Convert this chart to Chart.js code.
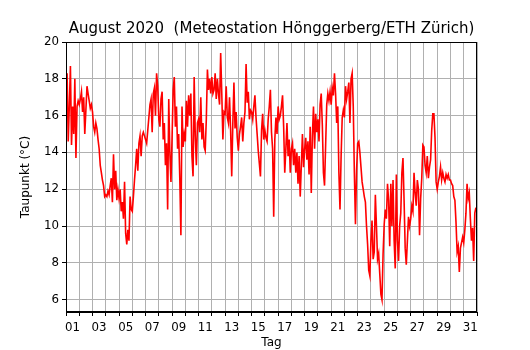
<!DOCTYPE html>
<html>
<head>
<meta charset="utf-8">
<script src="https://cdn.jsdelivr.net/npm/chart.js@4"></script>
<style>
  html, body { margin:0; padding:0; background:#fff; }
</style>
</head>
<body>
<canvas id="c" width="530" height="350"></canvas>
<script>
const TITLE = "August 2020  (Meteostation Hönggerberg/ETH Zürich)";
const X_TITLE = "Tag";
const Y_TITLE = "Taupunkt (°C)";

// one value every 2 hours, 12 per day
const STEP_HOURS = 2;

// day boundaries (0 = 1 Aug 00:00, 31 = 1 Sep 00:00) and their labels
const dayTicks  = [0,1,2,3,4,5,6,7,8,9,10,11,12,13,14,15,16,17,18,19,20,21,22,23,24,25,26,27,28,29,30,31];
const dayLabels = ["01","","03","","05","","07","","09","","11","","13","","15","","17","","19","","21","","23","","25","","27","","29","","31",""];
const yTicks = [6,8,10,12,14,16,18,20];
const Y_MIN = 5.33, Y_MAX = 20;

// Taupunkt in °C
const taupunkt = [
  17.4, 18.3, 14.6, 16.5, 18.7, 14.4, 16.5, 15.0, 18.0, 13.7, 16.5, 16.8, // 01
  16.6, 16.9, 17.3, 16.2, 17.0, 15.0, 16.3, 17.6, 17.2, 16.8, 16.4, 16.6, // 02
  16.2, 15.4, 15.1, 15.6, 15.3, 14.7, 14.2, 13.3, 12.9, 12.5, 12.2, 11.6, // 03
  11.7, 11.6, 11.9, 11.7, 12.2, 12.6, 11.3, 13.9, 12.0, 13.0, 11.4, 12.0, // 04
  11.5, 12.0, 10.8, 11.3, 10.4, 12.4,  9.6,  9.0,  9.8,  9.2, 11.6, 10.9, // 05
  10.8, 11.6, 12.5, 13.3, 14.2, 13.0, 14.5, 14.9, 13.8, 14.9, 15.1, 14.9, // 06
  14.7, 14.5, 15.2, 15.9, 16.6, 16.9, 15.1, 17.2, 17.5, 16.0, 18.3, 17.6, // 07
  15.8, 15.4, 16.9, 17.3, 14.7, 15.6, 13.3, 14.5, 10.9, 16.9, 14.0, 12.4, // 08
  14.8, 17.4, 18.1, 15.4, 16.5, 14.2, 15.0, 12.6,  9.5, 16.5, 14.3, 15.0, // 09
  14.6, 16.8, 15.4, 17.1, 16.0, 17.2, 13.8, 12.7, 18.1, 14.9, 13.3, 15.6, // 10
  15.8, 15.1, 17.0, 14.7, 15.6, 14.3, 14.1, 15.8, 18.5, 17.4, 18.0, 17.2, // 11
  18.1, 17.2, 17.4, 18.3, 16.9, 18.0, 17.2, 16.6, 19.4, 17.2, 14.7, 16.2, // 12
  16.1, 17.6, 15.9, 15.6, 17.0, 15.2, 12.7, 15.6, 17.8, 15.3, 16.2, 14.8, // 13
  14.1, 15.0, 15.4, 15.9, 14.6, 15.6, 16.2, 18.8, 16.7, 17.3, 15.8, 16.3, // 14
  16.2, 15.8, 16.5, 17.1, 15.9, 15.0, 14.1, 13.4, 12.7, 15.2, 16.1, 14.7, // 15
  15.2, 14.8, 14.6, 15.8, 16.5, 17.4, 15.1, 14.2, 10.5, 14.7, 15.9, 15.0, // 16
  16.5, 15.8, 16.0, 16.5, 17.1, 15.4, 12.9, 14.2, 15.6, 13.8, 14.7, 12.9, // 17
  14.2, 14.5, 13.3, 14.2, 12.9, 14.0, 12.3, 13.8, 11.6, 13.3, 15.0, 13.2, // 18
  14.2, 14.8, 13.6, 14.6, 12.8, 15.4, 11.8, 14.9, 16.5, 14.2, 16.1, 15.1, // 19
  15.8, 14.6, 16.6, 17.2, 15.5, 12.9, 12.2, 14.4, 16.6, 17.2, 16.8, 17.3, // 20
  16.6, 17.5, 17.1, 18.3, 17.2, 15.6, 16.5, 12.9, 10.9, 13.8, 15.9, 16.3, // 21
  15.9, 17.6, 16.9, 17.3, 17.8, 15.6, 18.0, 18.3, 16.5, 12.9, 10.1, 13.0, // 22
  14.5, 14.6, 14.0, 13.2, 12.4, 12.0, 11.6, 11.3, 10.0,  9.0,  7.6,  7.3, // 23
   9.2, 10.3,  8.2,  8.6, 11.7, 10.0,  8.2,  8.5,  7.4,  6.3,  6.0,  8.5, // 24
  10.1, 10.9, 10.4, 12.3, 11.4,  8.9, 12.3, 10.0, 12.5,  9.2,  7.7, 12.8, // 25
   9.2,  8.1, 10.0, 10.7, 12.9, 13.7, 11.4,  8.8,  7.9,  9.2, 10.5, 10.0, // 26
  10.4, 11.1, 10.8, 12.9, 11.8, 11.1, 12.5, 12.0,  9.5, 11.5, 12.6, 14.4, // 27
  14.3, 13.3, 12.9, 13.8, 12.6, 13.2, 13.6, 15.2, 16.1, 16.1, 14.8, 12.4, // 28
  12.0, 12.4, 12.7, 13.2, 12.5, 12.9, 12.6, 12.4, 12.8, 12.6, 12.8, 12.5, // 29
  12.5, 12.3, 12.2, 11.6, 11.4, 10.2,  8.6,  8.9,  7.5,  8.8,  9.1,  9.4, // 30
   9.1,  9.8, 10.7, 12.3, 11.5, 11.8, 10.4,  9.2,  9.9,  8.1, 10.7, 11.0  // 31
];

const FONT = "'DejaVu Sans', sans-serif";

// black box round the plot, like the matplotlib spines
const frame = {
  id: "frame",
  afterDatasetsDraw(chart){
    const { ctx, chartArea: a } = chart;
    ctx.save();
    ctx.strokeStyle = "#000";
    ctx.lineWidth = 1;
    ctx.strokeRect(Math.round(a.left) + 0.5, Math.round(a.top) + 0.5,
                   Math.round(a.right - a.left) - 1, Math.round(a.bottom - a.top) - 1);
    ctx.restore();
  }
};

const points = taupunkt.map((v, i) => ({ x: i * STEP_HOURS / 24, y: v }));

new Chart(document.getElementById("c"), {
  type: "line",
  data: { datasets: [{ data: points, borderColor: "#ff0000", borderWidth: 1.6, pointRadius: 0, tension: 0 }] },
  options: {
    responsive: false,
    animation: false,
    devicePixelRatio: 1,
    layout: { padding: { left: 0, right: 53, top: 0, bottom: 0 } },
    plugins: {
      legend: { display: false },
      tooltip: { enabled: false },
      title: {
        display: true, text: TITLE, color: "#000", fullSize: false,
        font: { family: FONT, size: 15, weight: "normal" },
        padding: { top: 20.5, bottom: 3.5 }
      }
    },
    scales: {
      x: {
        type: "linear", min: 0, max: 31,
        afterBuildTicks: s => { s.ticks = dayTicks.map(v => ({ value: v })); },
        afterFit: s => { s.height = 38; },
        ticks: {
          autoSkip: false, maxRotation: 0, padding: 5, labelOffset: 6.6, color: "#000",
          font: { family: FONT, size: 11.8 },
          callback: (v, i) => dayLabels[i] || ""
        },
        grid: { color: "#b0b0b0", lineWidth: 1, tickColor: "#000", tickLength: 4 },
        border: { color: "#000" },
        title: { display: true, text: X_TITLE, color: "#000", font: { family: FONT, size: 12 }, padding: { top: 0, bottom: 0 } }
      },
      y: {
        min: Y_MIN, max: Y_MAX,
        afterBuildTicks: s => { s.ticks = yTicks.map(v => ({ value: v })); },
        afterFit: s => { s.width = 66; },
        ticks: { padding: 3, color: "#000", font: { family: FONT, size: 11.8 } },
        grid: { color: "#b0b0b0", lineWidth: 1, tickColor: "#000", tickLength: 4 },
        border: { color: "#000" },
        title: { display: true, text: Y_TITLE, color: "#000", font: { family: FONT, size: 12 }, padding: { top: 19, bottom: 0 } }
      }
    }
  },
  plugins: [frame]
});
</script>
</body>
</html>
